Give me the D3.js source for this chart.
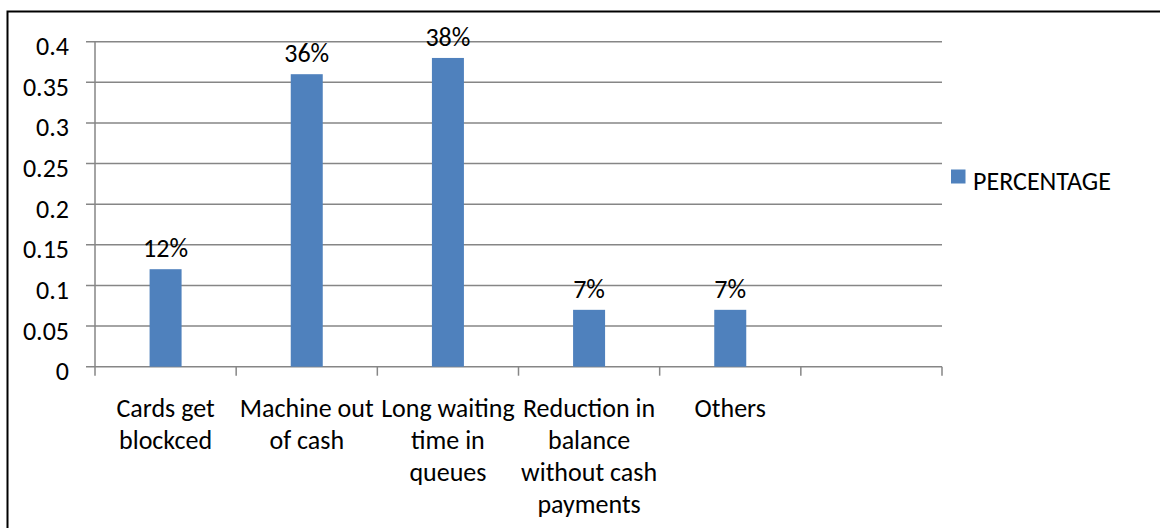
<!DOCTYPE html>
<html>
<head>
<meta charset="utf-8">
<script src="https://cdn.jsdelivr.net/npm/d3@7"></script>
<style>
  html, body { margin: 0; padding: 0; background: #fff; }
  svg text { font-family: Carlito, Calibri, Lato, "Open Sans", sans-serif; fill: #000; }
</style>
</head>
<body>
<svg id="chart" width="1160" height="528"></svg>
<script>
// Category labels (\n marks a line break), one empty trailing slot
const categories = [
  "Cards get\nblockced",
  "Machine out\nof cash",
  "Long waiting\ntime in\nqueues",
  "Reduction in\nbalance\nwithout cash\npayments",
  "Others",
  ""
];
const percentage = [0.12, 0.36, 0.38, 0.07, 0.07, null];
const valueLabels = ["12%", "36%", "38%", "7%", "7%", ""];
const yTicks = [0, 0.05, 0.1, 0.15, 0.2, 0.25, 0.3, 0.35, 0.4];
const yTickLabels = ["0", "0.05", "0.1", "0.15", "0.2", "0.25", "0.3", "0.35", "0.4"];
const seriesName = "PERCENTAGE";

const barColor = "#4F81BD";
const gridColor = "#868686";
const fontSize = 26;

const svg = d3.select("#chart");

// outer frame (top and left edges)
svg.append("path")
  .attr("d", "M7.5,528 V11.5 H1160")
  .attr("fill", "none")
  .attr("stroke", "#000")
  .attr("stroke-width", 2);

const plot = { left: 95, right: 942, top: 41.7, bottom: 366.7 };

const x = d3.scaleBand()
  .domain(d3.range(categories.length))
  .range([plot.left, plot.right])
  .paddingInner(0)
  .paddingOuter(0);

const y = d3.scaleLinear()
  .domain([0, 0.4])
  .range([plot.bottom, plot.top]);

const barWidth = 32;

// horizontal gridlines with left tick stubs
svg.append("g")
  .selectAll("line")
  .data(yTicks)
  .join("line")
  .attr("x1", plot.left - 9)
  .attr("x2", plot.right)
  .attr("y1", d => y(d))
  .attr("y2", d => y(d))
  .attr("stroke", gridColor)
  .attr("stroke-width", 1.5);

// y axis line
svg.append("line")
  .attr("x1", plot.left).attr("x2", plot.left)
  .attr("y1", y(0.4)).attr("y2", y(0))
  .attr("stroke", gridColor)
  .attr("stroke-width", 1.5);

// category boundary ticks below the x axis
const edges = d3.range(categories.length + 1).map(i =>
  i < categories.length ? x(i) : x(categories.length - 1) + x.bandwidth());
svg.append("g")
  .selectAll("line")
  .data(edges)
  .join("line")
  .attr("x1", d => d).attr("x2", d => d)
  .attr("y1", y(0)).attr("y2", y(0) + 9)
  .attr("stroke", gridColor)
  .attr("stroke-width", 1.5);

// y tick labels
svg.append("g")
  .selectAll("text")
  .data(yTicks)
  .join("text")
  .attr("x", 69)
  .attr("y", d => y(d) + 13.5)
  .attr("text-anchor", "end")
  .attr("font-size", fontSize)
  .text((d, i) => yTickLabels[i]);

// bars
const barData = percentage.map((v, i) => ({ i, v })).filter(d => d.v != null);
svg.append("g")
  .selectAll("rect")
  .data(barData)
  .join("rect")
  .attr("x", d => x(d.i) + x.bandwidth() / 2 - barWidth / 2)
  .attr("width", barWidth)
  .attr("y", d => y(d.v))
  .attr("height", d => y(0) - y(d.v))
  .attr("fill", barColor);

// value labels
svg.append("g")
  .selectAll("text")
  .data(barData)
  .join("text")
  .attr("x", d => x(d.i) + x.bandwidth() / 2)
  .attr("y", d => y(d.v) - 12)
  .attr("text-anchor", "middle")
  .attr("font-size", fontSize)
  .text(d => valueLabels[d.i]);

// category labels
const catG = svg.append("g")
  .selectAll("text")
  .data(categories.map((c, i) => ({ c, i })))
  .join("text")
  .attr("x", d => x(d.i) + x.bandwidth() / 2)
  .attr("y", 416.5)
  .attr("text-anchor", "middle")
  .attr("font-size", fontSize);
catG.selectAll("tspan")
  .data(d => d.c ? d.c.split("\n").map(t => ({ t, x: x(d.i) + x.bandwidth() / 2 })) : [])
  .join("tspan")
  .attr("x", d => d.x)
  .attr("dy", (d, j) => j === 0 ? 0 : 32)
  .text(d => d.t);

// legend
const legend = svg.append("g");
legend.append("rect")
  .attr("x", 951).attr("y", 169.5)
  .attr("width", 14.5).attr("height", 14)
  .attr("fill", barColor);
legend.append("text")
  .attr("x", 973)
  .attr("y", 190)
  .attr("font-size", fontSize)
  .text(seriesName);
</script>
</body>
</html>
